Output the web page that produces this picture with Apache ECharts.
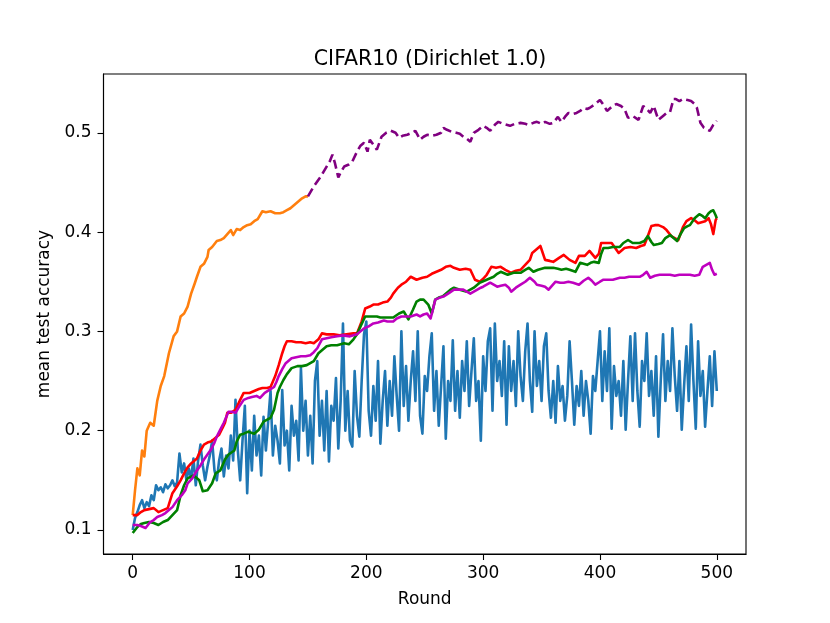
<!DOCTYPE html>
<html>
<head>
<meta charset="utf-8">
<script src="https://cdn.jsdelivr.net/npm/echarts@6/dist/echarts.min.js"></script>
<style>html,body{margin:0;padding:0;background:#fff}#c{width:830px;height:623px}</style>
</head>
<body>
<div id="c"></div>
<script>
const titleText = 'CIFAR10 (Dirichlet 1.0)';
const xTicks = [0, 100, 200, 300, 400, 500];
const yTicks = [0.1, 0.2, 0.3, 0.4, 0.5];

// blue: sampled every 2 rounds
const blueStep = 2;
const blueAcc = [
0.100,0.112,0.118,0.125,0.130,0.122,0.128,0.124,0.135,0.130,
0.145,0.140,0.143,0.138,0.146,0.142,0.145,0.150,0.144,0.148,
0.177,0.158,0.167,0.150,0.162,0.152,0.172,0.145,0.170,0.186,
0.165,0.150,0.164,0.175,0.190,0.160,0.150,0.170,0.182,0.154,
0.175,0.162,0.195,0.170,0.231,0.180,0.150,0.190,0.225,0.137,
0.200,0.160,0.215,0.175,0.195,0.155,0.214,0.180,0.210,0.240,
0.175,0.205,0.190,0.167,0.241,0.185,0.200,0.160,0.225,0.195,
0.210,0.170,0.263,0.200,0.230,0.175,0.215,0.167,0.250,0.270,
0.195,0.230,0.180,0.240,0.169,0.225,0.210,0.253,0.182,0.230,
0.308,0.200,0.240,0.190,0.184,0.260,0.215,0.194,0.250,0.297,
0.310,0.220,0.195,0.245,0.210,0.270,0.187,0.230,0.260,0.205,
0.250,0.215,0.275,0.235,0.200,0.300,0.225,0.265,0.210,0.250,
0.280,0.230,0.300,0.215,0.197,0.255,0.240,0.275,0.298,0.220,
0.260,0.205,0.245,0.285,0.192,0.250,0.230,0.291,0.220,0.260,
0.213,0.270,0.240,0.290,0.225,0.260,0.293,0.230,0.250,0.190,
0.275,0.240,0.290,0.303,0.220,0.308,0.250,0.270,0.235,0.290,
0.206,0.285,0.240,0.270,0.225,0.300,0.255,0.230,0.280,0.308,
0.250,0.219,0.300,0.245,0.270,0.230,0.285,0.298,0.240,0.213,
0.250,0.208,0.265,0.230,0.245,0.210,0.235,0.290,0.250,0.206,
0.245,0.225,0.260,0.215,0.250,0.230,0.197,0.255,0.240,0.270,
0.300,0.230,0.280,0.240,0.303,0.202,0.265,0.235,0.250,0.215,
0.270,0.201,0.250,0.295,0.230,0.298,0.240,0.204,0.270,0.250,
0.298,0.235,0.260,0.215,0.275,0.194,0.250,0.297,0.230,0.270,
0.240,0.303,0.255,0.220,0.270,0.201,0.245,0.285,0.230,0.307,
0.250,0.202,0.290,0.235,0.260,0.204,0.240,0.275,0.225,0.280,
0.240
];

const orangeData = [[0,0.115],[2,0.14],[4,0.162],[6,0.155],[8,0.18],[10,0.174],[12,0.2],[15,0.208],[18,0.205],[21,0.23],[24,0.245],[27,0.255],[31,0.278],[35,0.295],[38,0.30],[41,0.315],[44,0.318],[47,0.325],[50,0.338],[53,0.348],[55,0.355],[58,0.365],[61,0.368],[64,0.375],[65,0.382],[68,0.385],[72,0.391],[75,0.392],[78,0.394],[81,0.398],[84,0.402],[86,0.397],[89,0.403],[92,0.402],[95,0.405],[98,0.407],[101,0.408],[104,0.411],[107,0.413],[111,0.421],[114,0.42],[118,0.421],[122,0.419],[126,0.419],[129,0.42],[132,0.422],[135,0.424],[138,0.427],[142,0.431],[145,0.434],[148,0.436],[150,0.436]];

const purpleData = [[150,0.436],[155,0.446],[161,0.456],[166,0.466],[169,0.472],[171,0.478],[173,0.470],[176,0.455],[178,0.46],[181,0.466],[185,0.468],[188,0.471],[192,0.481],[195,0.487],[198,0.490],[201,0.481],[203,0.493],[206,0.488],[209,0.483],[213,0.496],[217,0.500],[221,0.502],[225,0.500],[228,0.495],[231,0.497],[235,0.498],[239,0.500],[242,0.502],[246,0.493],[249,0.496],[252,0.498],[256,0.497],[260,0.498],[264,0.500],[266,0.505],[269,0.503],[273,0.501],[277,0.500],[280,0.499],[283,0.496],[286,0.494],[289,0.491],[292,0.500],[296,0.503],[300,0.507],[303,0.505],[306,0.502],[310,0.508],[313,0.511],[317,0.509],[320,0.508],[323,0.507],[327,0.509],[332,0.510],[336,0.509],[339,0.508],[343,0.51],[346,0.511],[350,0.509],[353,0.511],[357,0.509],[360,0.510],[364,0.516],[367,0.511],[370,0.516],[373,0.520],[377,0.519],[380,0.520],[383,0.522],[386,0.525],[389,0.524],[391,0.525],[396,0.529],[400,0.533],[403,0.528],[406,0.522],[410,0.526],[414,0.529],[418,0.527],[421,0.524],[424,0.515],[428,0.517],[433,0.513],[437,0.527],[440,0.524],[443,0.520],[446,0.527],[450,0.513],[454,0.517],[457,0.520],[460,0.521],[463,0.534],[465,0.534],[468,0.532],[471,0.534],[475,0.533],[478,0.532],[481,0.529],[483,0.525],[486,0.510],[489,0.505],[492,0.503],[494,0.502],[497,0.508],[500,0.512]];

const redData = [[0,0.115],[4,0.115],[7,0.118],[10,0.120],[14,0.121],[18,0.122],[22,0.118],[26,0.120],[30,0.122],[34,0.137],[38,0.144],[41,0.150],[44,0.157],[47,0.163],[50,0.167],[55,0.172],[58,0.180],[61,0.186],[64,0.188],[67,0.189],[70,0.192],[74,0.196],[77,0.203],[79,0.208],[81,0.218],[84,0.218],[88,0.221],[92,0.231],[95,0.238],[100,0.238],[104,0.240],[108,0.242],[111,0.243],[115,0.243],[118,0.244],[122,0.255],[125,0.266],[128,0.278],[130,0.285],[132,0.290],[136,0.290],[140,0.289],[144,0.289],[148,0.288],[152,0.289],[155,0.288],[159,0.292],[162,0.298],[166,0.297],[172,0.297],[177,0.296],[183,0.297],[189,0.298],[192,0.298],[196,0.310],[199,0.323],[203,0.325],[206,0.327],[210,0.327],[214,0.329],[218,0.330],[221,0.334],[223,0.338],[227,0.344],[230,0.347],[234,0.350],[238,0.355],[243,0.352],[248,0.354],[252,0.355],[256,0.358],[260,0.360],[264,0.362],[268,0.365],[272,0.366],[275,0.364],[280,0.362],[285,0.363],[289,0.362],[293,0.352],[297,0.350],[300,0.353],[303,0.357],[307,0.365],[311,0.364],[315,0.365],[319,0.362],[324,0.359],[328,0.361],[332,0.362],[336,0.367],[340,0.372],[342,0.379],[346,0.383],[349,0.386],[353,0.372],[357,0.371],[360,0.370],[365,0.374],[369,0.377],[374,0.372],[379,0.369],[382,0.376],[387,0.376],[391,0.381],[396,0.374],[399,0.378],[401,0.389],[406,0.389],[410,0.389],[413,0.384],[416,0.379],[421,0.384],[426,0.385],[431,0.384],[435,0.386],[438,0.387],[441,0.396],[444,0.406],[447,0.407],[450,0.407],[454,0.405],[457,0.402],[461,0.396],[464,0.394],[467,0.392],[471,0.405],[474,0.411],[478,0.414],[481,0.412],[484,0.409],[487,0.410],[490,0.411],[493,0.414],[495,0.408],[497,0.398],[499,0.412],[500,0.414]];

const greenData = [[0,0.097],[2,0.100],[4,0.103],[7,0.106],[10,0.107],[14,0.108],[18,0.107],[22,0.105],[26,0.108],[30,0.110],[34,0.115],[38,0.120],[41,0.135],[44,0.145],[47,0.152],[52,0.155],[57,0.150],[60,0.139],[64,0.140],[68,0.147],[71,0.157],[75,0.160],[79,0.171],[82,0.176],[87,0.180],[89,0.189],[92,0.196],[95,0.197],[99,0.199],[104,0.197],[108,0.201],[112,0.209],[118,0.213],[121,0.221],[124,0.238],[126,0.244],[129,0.251],[132,0.257],[136,0.263],[141,0.265],[145,0.265],[149,0.266],[152,0.268],[155,0.270],[159,0.278],[163,0.282],[166,0.285],[170,0.286],[175,0.286],[181,0.288],[185,0.287],[189,0.292],[192,0.297],[195,0.305],[199,0.315],[204,0.315],[209,0.315],[212,0.314],[218,0.314],[223,0.314],[228,0.318],[232,0.320],[236,0.312],[240,0.322],[243,0.330],[246,0.332],[249,0.332],[253,0.327],[256,0.318],[259,0.332],[262,0.334],[265,0.335],[269,0.339],[272,0.342],[275,0.344],[280,0.342],[286,0.340],[289,0.342],[292,0.344],[297,0.349],[303,0.352],[309,0.355],[312,0.358],[315,0.360],[321,0.357],[326,0.359],[332,0.359],[336,0.362],[339,0.364],[343,0.360],[347,0.362],[350,0.363],[353,0.364],[357,0.364],[360,0.364],[364,0.363],[367,0.362],[371,0.363],[374,0.362],[379,0.360],[383,0.369],[386,0.368],[389,0.367],[392,0.369],[395,0.370],[399,0.369],[401,0.378],[403,0.384],[407,0.384],[411,0.385],[414,0.385],[417,0.385],[420,0.389],[424,0.392],[428,0.389],[431,0.389],[434,0.389],[438,0.391],[441,0.396],[444,0.390],[446,0.387],[450,0.388],[453,0.389],[456,0.394],[460,0.397],[463,0.394],[466,0.391],[469,0.398],[472,0.404],[475,0.406],[477,0.407],[481,0.414],[485,0.418],[488,0.416],[490,0.414],[493,0.419],[495,0.421],[497,0.422],[499,0.417],[500,0.414]];

const magentaData = [[0,0.105],[4,0.105],[7,0.104],[9,0.103],[11,0.102],[13,0.105],[15,0.108],[18,0.110],[21,0.113],[25,0.115],[28,0.117],[31,0.120],[34,0.123],[38,0.130],[42,0.135],[45,0.140],[47,0.147],[51,0.152],[55,0.160],[58,0.165],[61,0.171],[64,0.176],[67,0.181],[70,0.188],[72,0.194],[75,0.201],[78,0.208],[82,0.219],[85,0.219],[88,0.218],[91,0.224],[95,0.231],[99,0.233],[102,0.234],[106,0.235],[109,0.233],[113,0.238],[117,0.241],[121,0.244],[123,0.249],[125,0.255],[128,0.262],[131,0.268],[134,0.271],[136,0.273],[140,0.274],[144,0.275],[148,0.275],[152,0.276],[155,0.279],[158,0.283],[162,0.292],[166,0.293],[170,0.294],[175,0.295],[180,0.296],[186,0.295],[192,0.297],[195,0.300],[198,0.303],[202,0.305],[206,0.308],[210,0.309],[215,0.311],[218,0.310],[223,0.310],[226,0.313],[230,0.315],[234,0.315],[238,0.315],[243,0.317],[246,0.315],[249,0.317],[252,0.318],[255,0.313],[257,0.322],[259,0.332],[263,0.334],[266,0.335],[270,0.338],[275,0.342],[279,0.342],[283,0.342],[286,0.340],[289,0.338],[292,0.340],[295,0.342],[298,0.344],[300,0.345],[303,0.347],[306,0.349],[309,0.347],[312,0.345],[315,0.346],[319,0.347],[322,0.344],[324,0.340],[328,0.344],[332,0.347],[336,0.350],[340,0.354],[344,0.350],[346,0.347],[350,0.346],[353,0.345],[356,0.342],[359,0.346],[362,0.350],[366,0.349],[369,0.349],[373,0.350],[377,0.349],[382,0.347],[386,0.351],[390,0.354],[393,0.351],[396,0.347],[400,0.350],[403,0.352],[407,0.352],[411,0.352],[414,0.353],[417,0.354],[421,0.354],[425,0.355],[430,0.355],[434,0.355],[437,0.357],[440,0.360],[443,0.354],[447,0.356],[451,0.357],[456,0.357],[460,0.357],[464,0.356],[468,0.357],[473,0.357],[477,0.357],[481,0.356],[485,0.357],[488,0.365],[491,0.367],[494,0.369],[496,0.362],[498,0.357],[500,0.358]];

const blueData = blueAcc.map((v, i) => [i * blueStep, v]);

const FONT = 'DejaVu Sans';
function line(data, color, extra) {
  return Object.assign({
    type: 'line', data: data, showSymbol: false, symbol: 'none',
    lineStyle: { color: color, width: 2.6, join: 'round', cap: 'butt' },
    itemStyle: { color: color }, silent: true, z: 2
  }, extra || {});
}

const chart = echarts.init(document.getElementById('c'), null, { renderer: 'canvas' });
chart.setOption({
  animation: false,
  backgroundColor: '#ffffff',
  title: {
    text: titleText, left: 425, top: 44, textAlign: 'center',
    textStyle: { fontFamily: FONT, fontSize: 20.5, fontWeight: 'normal', color: '#000' }
  },
  grid: { left: 103.5, right: 84, top: 74, bottom: 69, show: true, borderColor: '#000', borderWidth: 1.1, backgroundColor: 'transparent' },
  xAxis: {
    type: 'value', min: -25, max: 525,
    name: 'Round', nameLocation: 'middle', nameGap: 37,
    nameTextStyle: { fontFamily: FONT, fontSize: 17, color: '#000' },
    axisLine: { show: true, onZero: false, lineStyle: { color: '#000', width: 1.1 } },
    axisTick: { show: true, length: 6, customValues: xTicks, lineStyle: { color: '#000', width: 1.1 } },
    axisLabel: { customValues: xTicks, margin: 11, fontFamily: FONT, fontSize: 17, color: '#000' },
    splitLine: { show: false }
  },
  yAxis: {
    type: 'value', min: 0.0758, max: 0.5592,
    name: 'mean test accuracy', nameLocation: 'middle', nameGap: 50, nameRotate: 90,
    nameTextStyle: { fontFamily: FONT, fontSize: 17, color: '#000' },
    axisLine: { show: true, onZero: false, lineStyle: { color: '#000', width: 1.1 } },
    axisTick: { show: true, length: 6, customValues: yTicks, lineStyle: { color: '#000', width: 1.1 } },
    axisLabel: { customValues: yTicks, margin: 12, fontFamily: FONT, fontSize: 17, color: '#000',
      formatter: v => v.toFixed(1) },
    splitLine: { show: false }
  },
  series: [
    line(blueData, '#1f77b4'),
    line(orangeData, '#ff7f0e'),
    line(redData, '#ff0000'),
    line(greenData, '#008000'),
    line(magentaData, '#bf00bf'),
    line(purpleData, '#800080', { lineStyle: { color: '#800080', width: 2.6, type: [9, 4.5] } })
  ]
});
</script>
</body>
</html>
